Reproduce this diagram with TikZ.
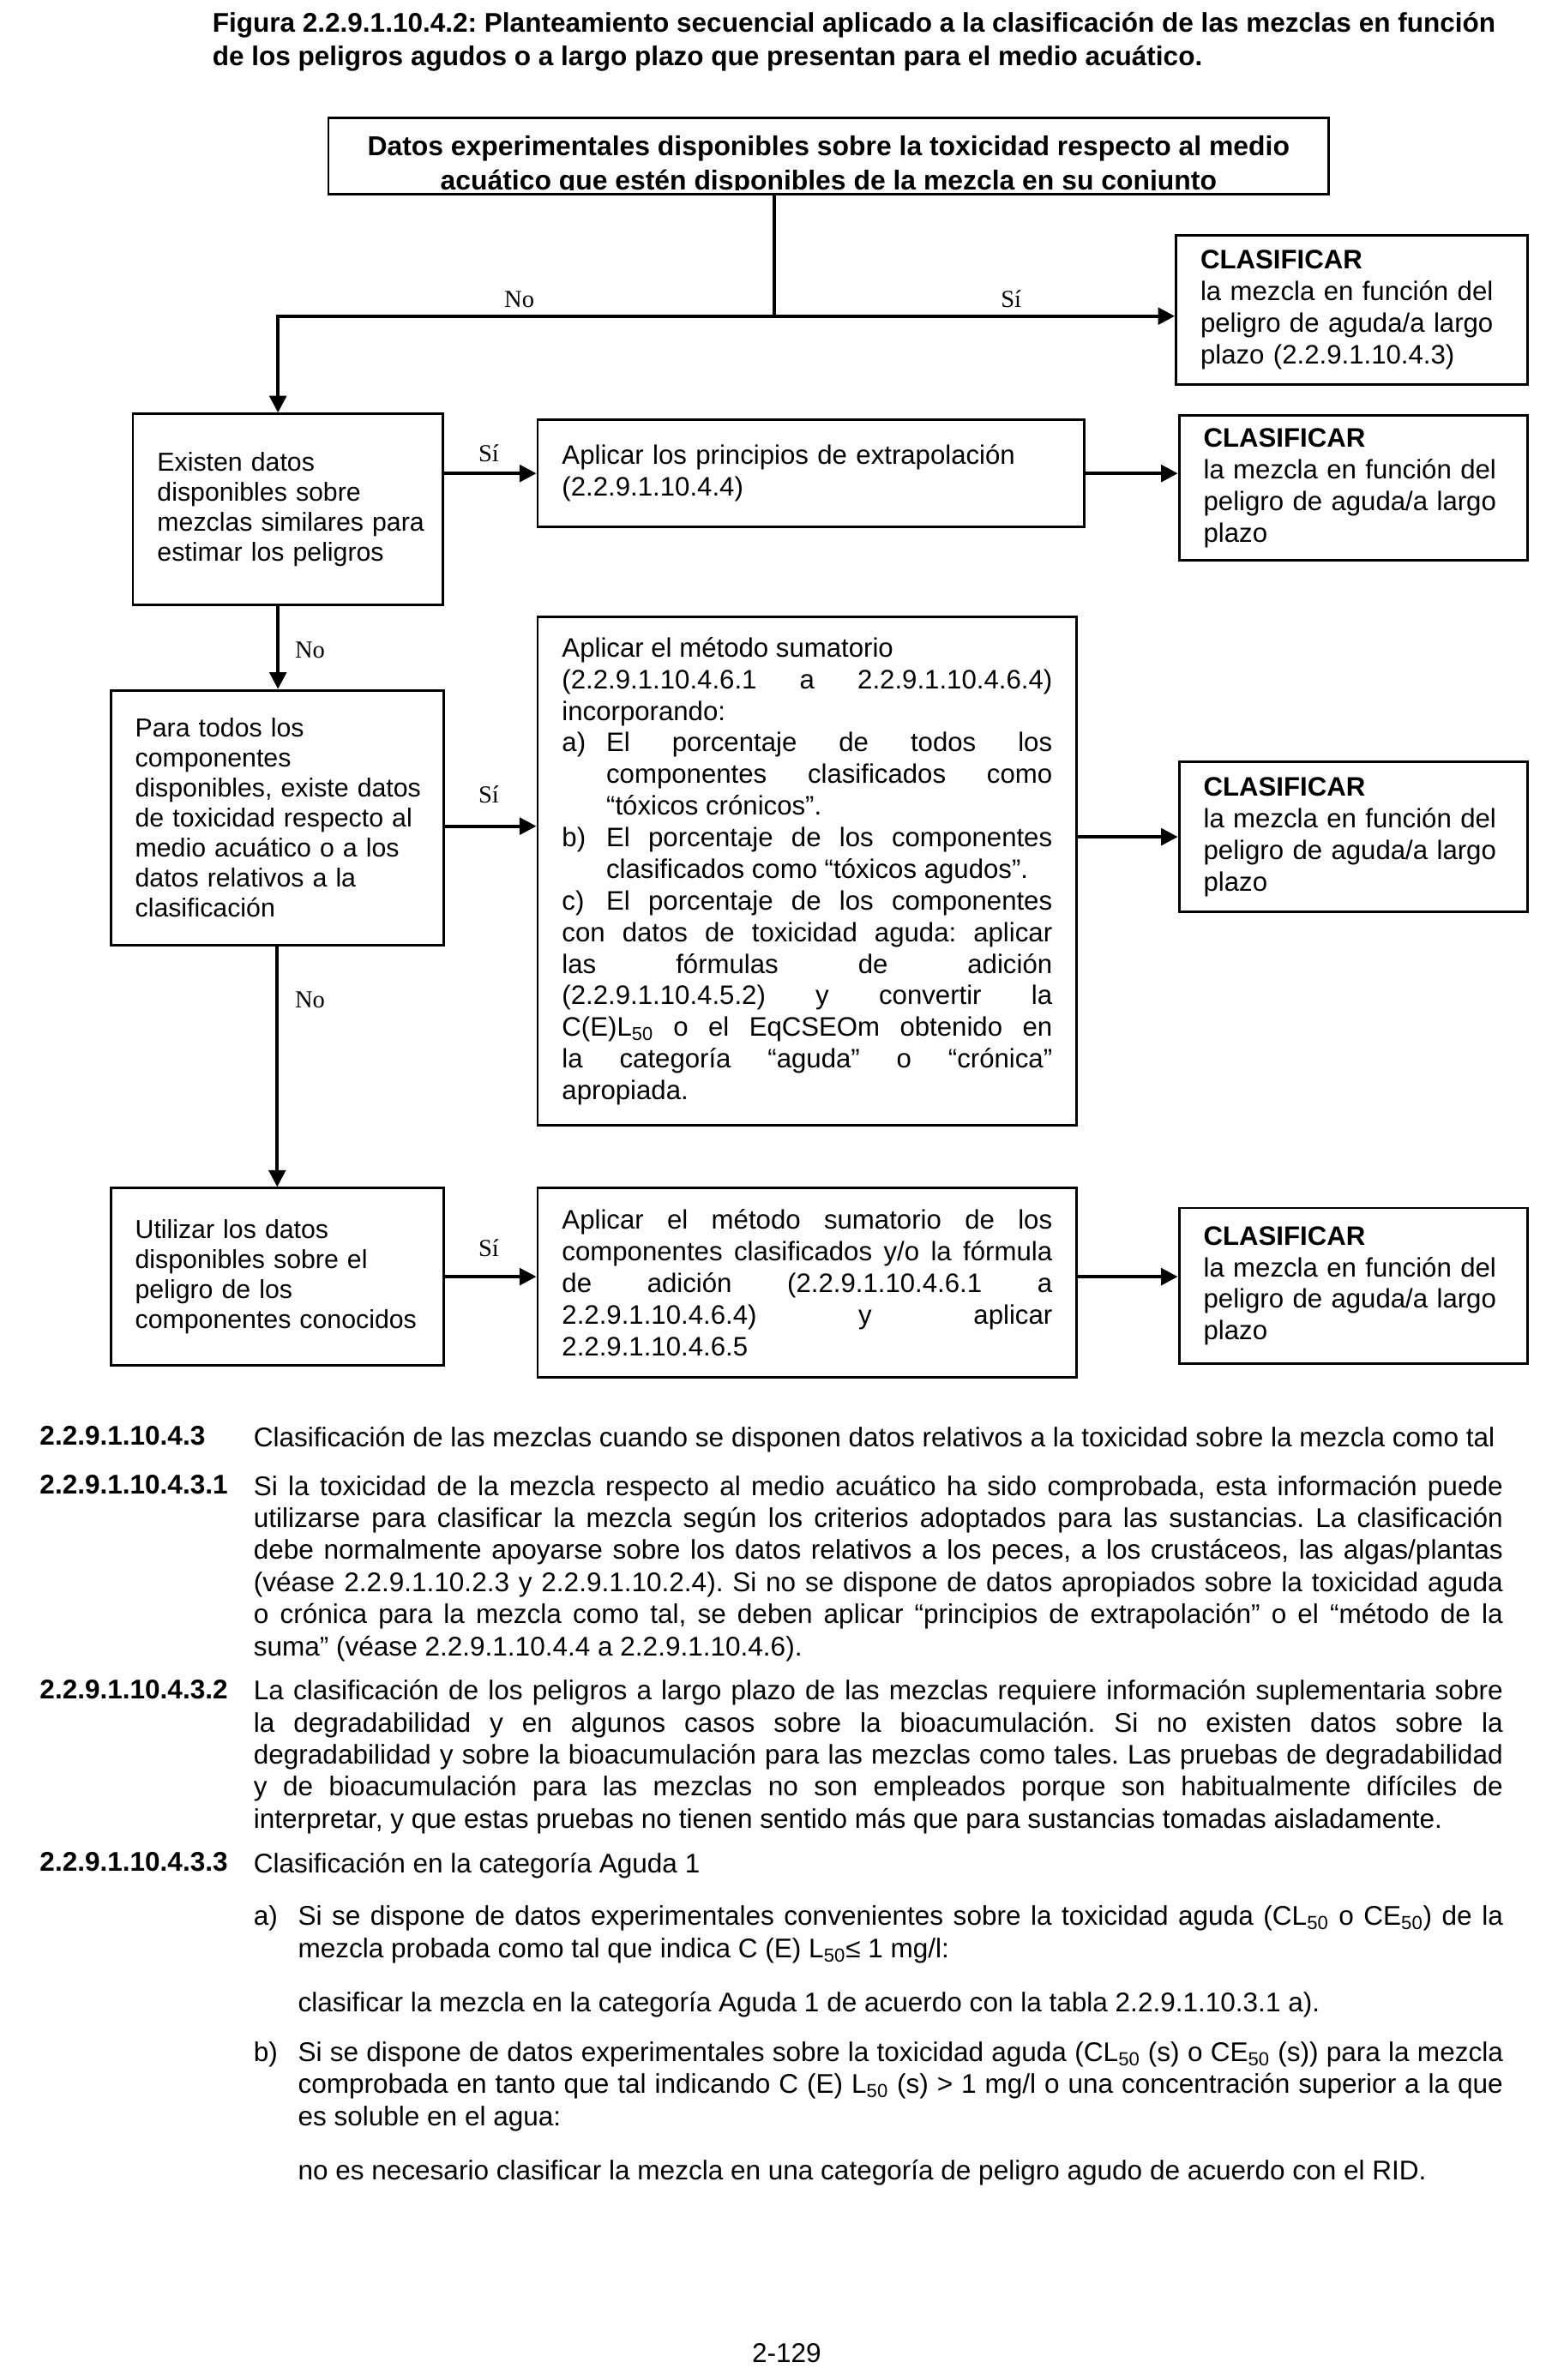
\documentclass[tikz,border=0pt]{standalone}
\usepackage{fontspec}
\setmainfont{Liberation Sans}
\newfontfamily\serifno{Liberation Serif}
\usetikzlibrary{arrows.meta}
\setlength{\parindent}{0pt}
\frenchspacing

\begin{document}
\begin{tikzpicture}[x=1pt, y=-1pt, line width=2.2pt, >={Triangle[length=11pt, width=11pt]},
  main/.style = {draw, line width=1.6pt, inner xsep=16pt, inner ysep=0pt, align=left, font=\fontsize{17.5}{20.7}\selectfont},
  left/.style = {main, font=\fontsize{17}{19.6}\selectfont},
  lab/.style = {font=\serifno\fontsize{16}{18}\selectfont, inner sep=0pt},
  body/.style = {anchor=north west, inner sep=0pt, align=justify, font=\fontsize{17.7}{21}\selectfont},
  num/.style = {anchor=north west, inner sep=0pt, font=\bfseries\fontsize{17.7}{21}\selectfont}]
  \fill[white] (0,0) rectangle (1024,1558.5);
  \useasboundingbox (0,0) rectangle (1024,1558.5);

  \node[num, align=left, font=\bfseries\fontsize{17.7}{22}\selectfont] (cap) at (138,7) {Figura 2.2.9.1.10.4.2: Planteamiento secuencial aplicado a la clasificación de las mezclas en función\\de los peligros agudos o a largo plazo que presentan para el medio acuático.};

  % flowchart
  \begin{scope}
    \clip (215,77) rectangle (870,124.5);
    \node[font=\bfseries\fontsize{17.9}{22}\selectfont, align=center, anchor=north, inner sep=0pt] (1t) at (542.5,88) {Datos experimentales disponibles sobre la toxicidad respecto al medio\\acuático que estén disponibles de la mezcla en su conjunto};
  \end{scope}
  \node[main, minimum width=655pt, minimum height=50pt] (1) at (542.5,102) {};
  \node[main, text width=198pt, minimum height=98pt] (2) at (885,203) {\textbf{CLASIFICAR}\\la mezcla en función del\\peligro de aguda/a largo\\plazo (2.2.9.1.10.4.3)};
  \node[left, text width=171pt, minimum height=125pt] (3) at (188.5,333.5) {Existen datos\\disponibles sobre\\\mbox{mezclas similares para}\\estimar los peligros};
  \node[main, text width=326pt, minimum height=70pt] (4) at (531,310) {Aplicar los principios de extrapolación\\(2.2.9.1.10.4.4)};
  \node[main, text width=196pt, minimum height=95pt] (5) at (886,319.5) {\textbf{CLASIFICAR}\\la mezcla en función del\\peligro de aguda/a largo\\plazo};
  \node[left, text width=186pt, minimum height=167pt] (6) at (181.5,535.5) {Para todos los\\componentes\\\mbox{disponibles, existe datos}\\\mbox{de toxicidad respecto al}\\medio acuático o a los\\datos relativos a la\\clasificación};
  \node[main, align=justify, text width=321pt, minimum height=333pt] (7) at (528.5,570.5) {Aplicar el método sumatorio\newline
    (2.2.9.1.10.4.6.1 a 2.2.9.1.10.4.6.4)\linebreak incorporando:\par
    \hangindent=29pt\hangafter=1 \makebox[29pt][l]{a)}El porcentaje de todos los\linebreak componentes clasificados como\linebreak “tóxicos crónicos”.\par
    \hangindent=29pt\hangafter=1 \makebox[29pt][l]{b)}El porcentaje de los componentes\linebreak clasificados como “tóxicos agudos”.\par
    \hangindent=29pt\hangafter=1 \makebox[29pt][l]{c)}El porcentaje de los componentes\linebreak con datos de toxicidad aguda: aplicar\linebreak las fórmulas de adición\linebreak (2.2.9.1.10.4.5.2) y convertir la\linebreak C(E)L\textsubscript{50} o el EqCSEOm obtenido en\linebreak la categoría “aguda” o “crónica”\linebreak apropiada.};
  \node[main, text width=196pt, minimum height=98pt] (8) at (886,548) {\textbf{CLASIFICAR}\\la mezcla en función del\\peligro de aguda/a largo\\plazo};
  \node[left, text width=186pt, minimum height=116pt] (9) at (181.5,836) {Utilizar los datos\\disponibles sobre el\\peligro de los\\\mbox{componentes conocidos}};
  \node[main, align=justify, text width=321pt, minimum height=124pt] (10) at (528.5,840) {Aplicar el método sumatorio de los\linebreak componentes clasificados y/o la fórmula\linebreak de adición (2.2.9.1.10.4.6.1 a\linebreak 2.2.9.1.10.4.6.4) y aplicar\linebreak 2.2.9.1.10.4.6.5};
  \node[main, text width=196pt, minimum height=102pt] (11) at (886,842) {\textbf{CLASIFICAR}\\la mezcla en función del\\peligro de aguda/a largo\\plazo};

  \coordinate (r) at (182,207);
  \coordinate (c) at (507,207);
  \draw (c |- 1.south) -- (c);
  \draw[<->] (r |- 3.north) -- (r) -- (r -| 2.west);
  \node[lab] at (340,196) {No};
  \node[lab] at (662,196) {Sí};

  \draw[->] (3.east |- 4.west) -- (4.west);
  \node[lab] at (320,297) {Sí};
  \draw[->] (4.east) -- (4.east -| 5.west);

  \draw[->] (r |- 3.south) -- (r |- 6.north);
  \node[lab] at (203,426) {No};
  \draw[->] ([yshift=-5.5pt]6.east) -- ([yshift=-5.5pt]6.east -| 7.west);
  \node[lab] at (320,520) {Sí};
  \draw[->] (7.east |- 8.west) -- (8.west);

  \draw[->] (6.south) -- (9.north);
  \node[lab] at (203,655) {No};
  \draw[->] (9.east) -- (9.east -| 10.west);
  \node[lab] at (320,817) {Sí};
  \draw[->] (10.east |- 9.east) -- (9.east -| 11.west);

  % text below
  \node[num] (n1) at (25,933) {2.2.9.1.10.4.3};
  \node[body, align=left] (t1) at (165,933) {Clasificación de las mezclas cuando se disponen datos relativos a la toxicidad sobre la mezcla como tal};
  \node[num] (n2) at (25,965) {2.2.9.1.10.4.3.1};
  \node[body, text width=818pt] (t2) at (165,965) {Si la toxicidad de la mezcla respecto al medio acuático ha sido comprobada, esta información puede\linebreak utilizarse para clasificar la mezcla según los criterios adoptados para las sustancias. La clasificación\linebreak debe normalmente apoyarse sobre los datos relativos a los peces, a los crustáceos, las algas/plantas\linebreak (véase 2.2.9.1.10.2.3 y 2.2.9.1.10.2.4). Si no se dispone de datos apropiados sobre la toxicidad aguda\linebreak o crónica para la mezcla como tal, se deben aplicar “principios de extrapolación” o el “método de la\linebreak suma” (véase 2.2.9.1.10.4.4 a 2.2.9.1.10.4.6).};
  \node[num] (n3) at (25,1099) {2.2.9.1.10.4.3.2};
  \node[body, text width=818pt] (t3) at (165,1099) {La clasificación de los peligros a largo plazo de las mezclas requiere información suplementaria sobre\linebreak la degradabilidad y en algunos casos sobre la bioacumulación. Si no existen datos sobre la\linebreak degradabilidad y sobre la bioacumulación para las mezclas como tales. Las pruebas de degradabilidad\linebreak y de bioacumulación para las mezclas no son empleados porque son habitualmente difíciles de\linebreak interpretar, y que estas pruebas no tienen sentido más que para sustancias tomadas aisladamente.};
  \node[num] (n4) at (25,1212) {2.2.9.1.10.4.3.3};
  \node[body, align=left] (t4) at (165,1212) {Clasificación en la categoría Aguda 1};
  \node[body, align=left] (la) at (165,1247) {a)};
  \node[body, text width=789pt] (ta) at (194,1247) {Si se dispone de datos experimentales convenientes sobre la toxicidad aguda (CL\textsubscript{50} o CE\textsubscript{50}) de la\linebreak mezcla probada como tal que indica C (E) L\textsubscript{50}≤ 1 mg/l:};
  \node[body, align=left] (ca) at (194,1303) {clasificar la mezcla en la categoría Aguda 1 de acuerdo con la tabla 2.2.9.1.10.3.1 a).};
  \node[body, align=left] (lb) at (165,1336) {b)};
  \node[body, text width=789pt] (tb) at (194,1336) {Si se dispone de datos experimentales sobre la toxicidad aguda (CL\textsubscript{50} (s) o CE\textsubscript{50} (s)) para la mezcla\linebreak comprobada en tanto que tal indicando C (E) L\textsubscript{50} (s) > 1 mg/l o una concentración superior a la que\linebreak es soluble en el agua:};
  \node[body, align=left] (cb) at (194,1413) {no es necesario clasificar la mezcla en una categoría de peligro agudo de acuerdo con el RID.};
  \node[body, anchor=base] (pg) at (515,1547) {2-129};
\end{tikzpicture}
\end{document}
